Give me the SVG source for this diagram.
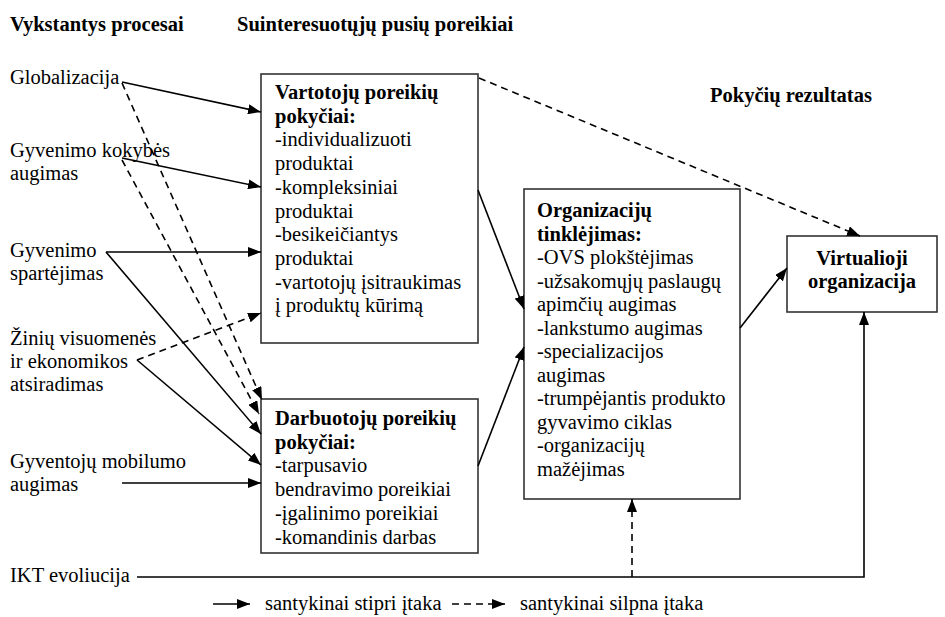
<svg xmlns="http://www.w3.org/2000/svg" width="945" height="617" viewBox="0 0 945 617">
<defs>
<marker id="ah" markerUnits="userSpaceOnUse" markerWidth="13" markerHeight="10" refX="13" refY="5" orient="auto">
<path d="M0,0 L13,5 L0,10 z" fill="#000"/>
</marker>
</defs>
<g id="headers">
<text font-family="Liberation Serif, serif" font-size="20.5" font-weight="bold" x="10" y="31">Vykstantys procesai</text>
<text font-family="Liberation Serif, serif" font-size="20.5" font-weight="bold" x="237" y="31">Suinteresuot&#371;j&#371; pusi&#371; poreikiai</text>
<text font-family="Liberation Serif, serif" font-size="20.5" font-weight="bold" x="710" y="102">Poky&#269;i&#371; rezultatas</text>
</g>
<g id="processes">
<text font-family="Liberation Serif, serif" font-size="20.5" x="10" y="84">Globalizacija</text>
<text font-family="Liberation Serif, serif" font-size="20.5" x="10" y="157">Gyvenimo kokyb&#279;s</text>
<text font-family="Liberation Serif, serif" font-size="20.5" x="10" y="180">augimas</text>
<text font-family="Liberation Serif, serif" font-size="20.5" x="10" y="257">Gyvenimo</text>
<text font-family="Liberation Serif, serif" font-size="20.5" x="10" y="280">spart&#279;jimas</text>
<text font-family="Liberation Serif, serif" font-size="20.5" x="10" y="345">&#381;ini&#371; visuomen&#279;s</text>
<text font-family="Liberation Serif, serif" font-size="20.5" x="10" y="368">ir ekonomikos</text>
<text font-family="Liberation Serif, serif" font-size="20.5" x="10" y="391">atsiradimas</text>
<text font-family="Liberation Serif, serif" font-size="20.5" x="10" y="468">Gyventoj&#371; mobilumo</text>
<text font-family="Liberation Serif, serif" font-size="20.5" x="10" y="491">augimas</text>
<text font-family="Liberation Serif, serif" font-size="20.5" x="10" y="582">IKT evoliucija</text>
</g>
<g id="vartotoju">
<rect fill="#fff" stroke="#333" stroke-width="1.6" x="261" y="74" width="217" height="269"/>
<text font-family="Liberation Serif, serif" font-size="20.5" x="275" y="99"><tspan font-weight="bold">Vartotoj&#371; poreiki&#371;</tspan><tspan font-weight="bold" x="275" dy="23.7">poky&#269;iai:</tspan><tspan x="275" dy="23.7">-individualizuoti</tspan><tspan x="275" dy="23.7">produktai</tspan><tspan x="275" dy="23.7">-kompleksiniai</tspan><tspan x="275" dy="23.7">produktai</tspan><tspan x="275" dy="23.7">-besikei&#269;iantys</tspan><tspan x="275" dy="23.7">produktai</tspan><tspan x="275" dy="23.7">-vartotoj&#371; &#303;sitraukimas</tspan><tspan x="275" dy="23.7">&#303; produkt&#371; k&#363;rim&#261;</tspan></text>
</g>
<g id="darbuotoju">
<rect fill="#fff" stroke="#333" stroke-width="1.6" x="261" y="399" width="217" height="154"/>
<text font-family="Liberation Serif, serif" font-size="20.5" x="275" y="425"><tspan font-weight="bold">Darbuotoj&#371; poreiki&#371;</tspan><tspan font-weight="bold" x="275" dy="23.7">poky&#269;iai:</tspan><tspan x="275" dy="23.7">-tarpusavio</tspan><tspan x="275" dy="23.7">bendravimo poreikiai</tspan><tspan x="275" dy="23.7">-&#303;galinimo poreikiai</tspan><tspan x="275" dy="23.7">-komandinis darbas</tspan></text>
</g>
<g id="organizaciju">
<rect fill="#fff" stroke="#333" stroke-width="1.6" x="524" y="189" width="216" height="310"/>
<text font-family="Liberation Serif, serif" font-size="20.5" x="537" y="217"><tspan font-weight="bold">Organizacij&#371;</tspan><tspan font-weight="bold" x="537" dy="23.5">tinkl&#279;jimas:</tspan><tspan x="537" dy="23.5">-OVS plok&#353;t&#279;jimas</tspan><tspan x="537" dy="23.5">-u&#382;sakom&#371;j&#371; paslaug&#371;</tspan><tspan x="537" dy="23.5">apim&#269;i&#371; augimas</tspan><tspan x="537" dy="23.5">-lankstumo augimas</tspan><tspan x="537" dy="23.5">-specializacijos</tspan><tspan x="537" dy="23.5">augimas</tspan><tspan x="537" dy="23.5">-trump&#279;jantis produkto</tspan><tspan x="537" dy="23.5">gyvavimo ciklas</tspan><tspan x="537" dy="23.5">-organizacij&#371;</tspan><tspan x="537" dy="23.5">ma&#382;&#279;jimas</tspan></text>
</g>
<g id="virtualioji">
<rect fill="#fff" stroke="#333" stroke-width="1.6" x="787" y="236" width="150" height="76"/>
<text font-family="Liberation Serif, serif" font-size="20.5" font-weight="bold" x="862" y="265" text-anchor="middle">Virtualioji</text>
<text font-family="Liberation Serif, serif" font-size="20.5" font-weight="bold" x="862" y="288" text-anchor="middle">organizacija</text>
</g>
<g id="connectors" fill="none" stroke="#000" stroke-width="1.6">
<path d="M122,82 L261,112" marker-end="url(#ah)"/>
<path d="M122,158 L261,187" marker-end="url(#ah)"/>
<path d="M106,252 L261,252" marker-end="url(#ah)"/>
<path d="M106,252 L261,434" marker-end="url(#ah)"/>
<path d="M137,360 L261,465" marker-end="url(#ah)"/>
<path d="M122,483 L261,483" marker-end="url(#ah)"/>
<path d="M478,190 L524,309" marker-end="url(#ah)"/>
<path d="M478,466 L524,347" marker-end="url(#ah)"/>
<path d="M740,328 L787,268" marker-end="url(#ah)"/>
<path d="M137,577 H864 V312" marker-end="url(#ah)"/>
<g stroke-dasharray="7 5">
<path d="M122,83 L262,400" marker-end="url(#ah)"/>
<path d="M122,160 L259,414" marker-end="url(#ah)"/>
<path d="M137,360 L261,313" marker-end="url(#ah)"/>
<path d="M479,78 L860,236" marker-end="url(#ah)"/>
<path d="M632,577 V499" marker-end="url(#ah)"/>
</g>
</g>
<g id="legend">
<path fill="none" stroke="#000" stroke-width="1.6" d="M213,604 H250" marker-end="url(#ah)"/>
<text font-family="Liberation Serif, serif" font-size="20.5" x="265" y="610">santykinai stipri &#303;taka</text>
<path fill="none" stroke="#000" stroke-width="1.6" stroke-dasharray="7 5" d="M452,604 H505" marker-end="url(#ah)"/>
<text font-family="Liberation Serif, serif" font-size="20.5" x="520" y="610">santykinai silpna &#303;taka</text>
</g>
</svg>
